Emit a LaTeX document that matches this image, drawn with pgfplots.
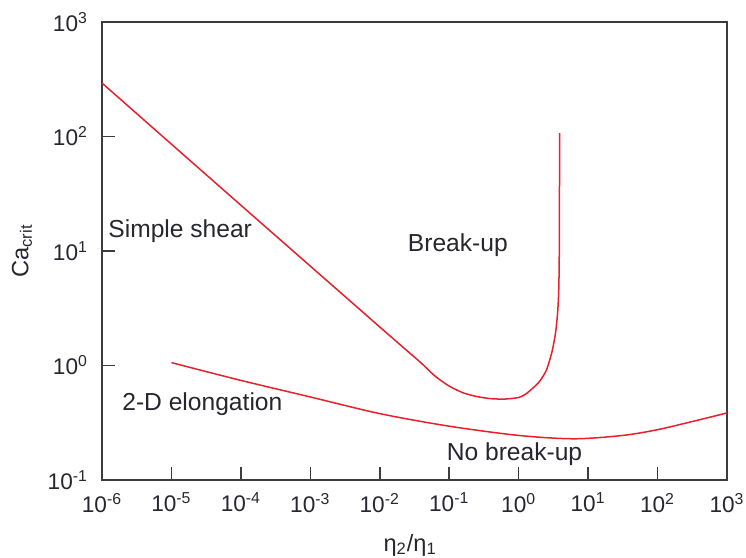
\documentclass[border=0pt]{standalone}
\usepackage{pgfplots}
\pgfplotsset{compat=1.18}
\usepackage{fontspec}
\setmainfont{Liberation Sans}

\definecolor{curvered}{RGB}{232,32,44}
\definecolor{inkgray}{RGB}{38,38,48}
\definecolor{framegray}{RGB}{60,60,60}

\begin{document}
\begin{tikzpicture}
\begin{axis}[
    scale only axis,
    width=312.5pt, height=229pt,
    xmode=log, ymode=log,
    xmin=1e-6, xmax=1e3,
    ymin=1e-1, ymax=1e3,
    axis line style={framegray, line width=0.8pt},
    tick pos=left,
    tick align=inside,
    major tick length=6.5pt,
    tick style={framegray, line width=0.8pt},
    xminorticks=false, yminorticks=false,
    xtick={1e-6,1e-5,1e-4,1e-3,1e-2,1e-1,1,1e1,1e2,1e3},
    xticklabels={10\textsuperscript{-6},10\textsuperscript{-5},10\textsuperscript{-4},10\textsuperscript{-3},10\textsuperscript{-2},10\textsuperscript{-1},10\textsuperscript{0},10\textsuperscript{1},10\textsuperscript{2},10\textsuperscript{3}},
    ytick={1e-1,1,1e1,1e2,1e3},
    yticklabels={10\textsuperscript{-1},10\textsuperscript{0},10\textsuperscript{1},10\textsuperscript{2},10\textsuperscript{3}},
    ticklabel style={font=\fontsize{11.3}{13}\selectfont, text=inkgray},
    xticklabel style={yshift=-3pt},
    yticklabel style={xshift=-3.5pt},
    xlabel={η\textsubscript{2}/η\textsubscript{1}},
    ylabel={Ca\textsubscript{crit}},
    label style={font=\fontsize{11.8}{14}\selectfont, text=inkgray},
    xlabel style={at={(axis description cs:0.493,-0.142)}, anchor=center},
    ylabel style={at={(axis description cs:-0.128,0.5)}, anchor=center},
]

% simple shear
\addplot[curvered, line width=0.75pt, smooth, tension=0.4] coordinates {
    (1e-6,293) (1e-4,25.1) (1e-2,2.17) (0.0251,1.334) (0.0398,1.047)
    (0.0631,0.804) (0.1,0.661) (0.158,0.578) (0.251,0.535) (0.398,0.513)
    (0.631,0.509) (1.0,0.525) (1.259,0.562) (1.585,0.631) (1.995,0.724)
    (2.512,0.912) (3.02,1.318) (3.39,1.905) (3.63,2.818) (3.76,4.17)
    (3.83,7.08) (3.86,15.85) (3.89,107)
};

% 2-D elongation
\addplot[curvered, line width=0.75pt, smooth] coordinates {
    (1e-5,1.059) (1e-4,0.741) (1e-3,0.531) (1e-2,0.380) (1e-1,0.295)
    (1,0.245) (6.31,0.229) (31.6,0.245) (100,0.275) (316,0.324) (1000,0.385)
};

\node[anchor=base west, inner sep=0, text=inkgray, font=\fontsize{12.3}{14}\selectfont] at (axis cs:1.22e-6,13.2) {Simple shear};
\node[anchor=base west, inner sep=0, text=inkgray, font=\fontsize{12.3}{14}\selectfont] at (axis cs:0.0251,9.8) {Break-up};
\node[anchor=base west, inner sep=0, text=inkgray, font=\fontsize{12.3}{14}\selectfont] at (axis cs:1.94e-6,0.408) {2-D elongation};
\node[anchor=base west, inner sep=0, text=inkgray, font=\fontsize{12.3}{14}\selectfont] at (axis cs:0.0912,0.1466) {No break-up};
\end{axis}
\pgfresetboundingbox
\path[use as bounding box] ([shift={(-51pt,-39pt)}]current axis.south west) rectangle ([shift={(9.5pt,11pt)}]current axis.north east);
\end{tikzpicture}
\end{document}
